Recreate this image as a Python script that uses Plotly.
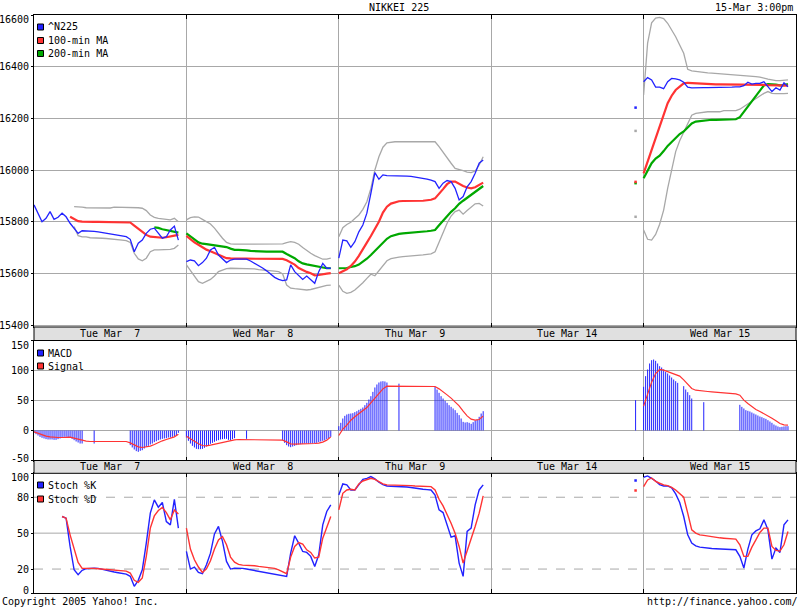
import plotly.graph_objects as go

# Nikkei 225, five trading days.
# Lines are sampled every 10 minutes from the 9:00 open (37 points a day),
# MACD bars every 5 minutes (morning, one noon bar, afternoon).
day_labels = ["Tue Mar\u00a0\u00a07", "Wed Mar\u00a0\u00a08", "Thu Mar\u00a0\u00a09", "Tue Mar 14", "Wed Mar 15"]

price_07 = [15866, 15836, 15801, 15814, 15840, 15810, 15818, 15834, 15820, 15795, 15776, 15756, 15766,
            15766, 15765, 15764, 15762, 15759, 15756, 15755, 15752, 15750, 15747, 15743, 15733, 15685,
            15718, 15730, 15756, 15772, 15776, 15756, 15737, 15743, 15769, 15784, 15730]
price_08 = [15647, 15653, 15650, 15631, 15643, 15660, 15692, 15702, 15672, 15656, 15643, 15653, 15656,
            15656, 15656, 15656, 15649, 15641, 15633, 15622, 15611, 15599, 15586, 15578, 15573, 15576,
            15634, 15608, 15591, 15578, 15591, 15578, 15563, 15608, 15640, 15621, 15621]
price_09 = [15660, 15730, 15727, 15702, 15724, 15762, 15788, 15834, 15911, 15991, 15965, 15982, 15979,
            15979, 15979, 15978, 15978, 15977, 15976, 15974, 15972, 15969, 15966, 15962, 15956, 15930,
            15950, 15960, 15956, 15930, 15885, 15898, 15936, 15956, 15988, 16027, 16040]
price_15 = [16342, 16358, 16349, 16321, 16321, 16315, 16342, 16355, 16353, 16349, 16340, 16321, 16318,
            16319, 16319, 16319, 16319, 16319, 16319, 16319, 16319, 16320, 16321, 16322, 16322, 16327,
            16340, 16333, 16336, 16336, 16342, 16323, 16304, 16319, 16310, 16338, 16323]

ma100_07 = [None, None, None, None, None, None, None, None, None, 15820, 15810, 15803, 15801,
            15800, 15800, 15800, 15800, 15800, 15800, 15800, 15800, 15800, 15800, 15799, 15798, 15786,
            15774, 15762, 15750, 15743, 15741, 15741, 15739, 15741, 15743, 15747, 15750]
ma100_08 = [15746, 15733, 15721, 15712, 15702, 15693, 15687, 15681, 15674, 15666, 15660, 15659, 15658,
            15658, 15658, 15658, 15658, 15658, 15658, 15658, 15658, 15658, 15658, 15658, 15657, 15652,
            15644, 15635, 15622, 15613, 15607, 15602, 15594, 15595, 15599, 15600, 15602]
ma100_09 = [15602, 15608, 15617, 15630, 15647, 15669, 15692, 15720, 15746, 15773, 15801, 15836, 15859,
            15871, 15876, 15880, 15881, 15881, 15881, 15881, 15881, 15882, 15884, 15886, 15891, 15911,
            15927, 15946, 15956, 15956, 15947, 15939, 15933, 15930, 15934, 15943, 15952]
ma100_15 = [15988, 16033, 16078, 16123, 16162, 16210, 16259, 16288, 16310, 16323, 16336, 16338, 16337,
            16336, 16335, 16333, 16332, 16332, 16332, 16332, 16332, 16332, 16332, 16331, 16331, 16331,
            16331, 16331, 16331, 16331, 16330, 16329, 16329, 16328, 16327, 16327, 16327]

ma200_07 = [None] * 30 + [15779, 15777, 15772, 15768, 15765, 15762, 15759]
ma200_08 = [15756, 15746, 15733, 15721, 15716, 15714, 15712, 15711, 15709, 15707, 15703, 15697, 15692,
            15692, 15692, 15690, 15688, 15687, 15685, 15685, 15685, 15685, 15685, 15685, 15685, 15676,
            15669, 15660, 15648, 15640, 15636, 15633, 15630, 15627, 15623, 15621, 15621]
ma200_09 = [15621, 15622, 15622, 15626, 15629, 15635, 15645, 15658, 15672, 15688, 15702, 15721, 15735,
            15745, 15750, 15754, 15756, 15757, 15758, 15759, 15760, 15762, 15764, 15766, 15769, 15787,
            15805, 15823, 15839, 15853, 15870, 15882, 15894, 15904, 15916, 15927, 15939]
ma200_15 = [15969, 15998, 16027, 16045, 16056, 16074, 16094, 16109, 16123, 16140, 16150, 16166, 16181,
            16188, 16190, 16193, 16195, 16195, 16195, 16195, 16195, 16197, 16197, 16197, 16205, 16226,
            16246, 16269, 16287, 16307, 16328, 16333, 16333, 16331, 16328, 16329, 16333]

upper_07 = [None] * 10 + [15859, 15859, 15857, 15855, 15855, 15854, 15854, 15853, 15853, 15854, 15857,
                          15857, 15857, 15857, 15857, 15857, 15855, 15853, 15844, 15827, 15818, 15814,
                          15812, 15810, 15808, 15814, 15801]
upper_08 = [15808, 15817, 15820, 15819, 15810, 15801, 15792, 15776, 15756, 15737, 15721, 15715, 15714,
            15714, 15714, 15714, 15714, 15714, 15714, 15714, 15714, 15714, 15714, 15714, 15715, 15720,
            15724, 15721, 15714, 15701, 15689, 15679, 15670, 15663, 15656, 15656, 15660]
upper_09 = [15743, 15778, 15790, 15799, 15813, 15827, 15849, 15878, 15930, 16001, 16052, 16089, 16106,
            16109, 16110, 16110, 16110, 16110, 16110, 16110, 16110, 16110, 16110, 16110, 16110, 16091,
            16068, 16046, 16027, 16007, 16001, 15998, 15993, 15991, 15997, 16020, 16052]
upper_15 = [16291, 16491, 16570, 16588, 16591, 16586, 16568, 16542, 16516, 16484, 16452, 16390, 16384,
            16382, 16379, 16377, 16376, 16375, 16374, 16372, 16372, 16371, 16370, 16368, 16367, 16366,
            16365, 16364, 16362, 16360, 16355, 16352, 16349, 16346, 16346, 16347, 16349]

lower_07 = [None] * 10 + [15782, 15747, 15742, 15742, 15739, 15739, 15738, 15737, 15736, 15735, 15733,
                          15732, 15730, 15728, 15721, 15679, 15657, 15650, 15660, 15685, 15692, 15692,
                          15692, 15693, 15694, 15698, 15711]
lower_08 = [15634, 15612, 15586, 15569, 15563, 15569, 15578, 15591, 15608, 15614, 15620, 15621, 15621,
            15621, 15621, 15621, 15621, 15619, 15616, 15615, 15614, 15612, 15610, 15608, 15599, 15556,
            15544, 15542, 15540, 15537, 15537, 15539, 15543, 15548, 15553, 15555, 15556]
lower_09 = [15556, 15532, 15524, 15528, 15537, 15550, 15565, 15582, 15598, 15592, 15611, 15634, 15650,
            15658, 15662, 15664, 15666, 15667, 15668, 15670, 15671, 15673, 15675, 15677, 15685, 15720,
            15762, 15795, 15823, 15840, 15846, 15830, 15844, 15857, 15870, 15872, 15862]
lower_15 = [15769, 15733, 15730, 15752, 15791, 15846, 15930, 16004, 16072, 16114, 16149, 16181, 16213,
            16220, 16222, 16225, 16226, 16226, 16226, 16226, 16230, 16230, 16230, 16230, 16236, 16246,
            16259, 16269, 16278, 16287, 16297, 16304, 16297, 16296, 16295, 16296, 16297]

# Mar 14 only has the closing print
close_14 = {"price": 16242, "ma100": 15955, "ma200": 15950, "upper": 16152, "lower": 15820,
            "macd": 50.6, "k": 93.9, "d": 85.6}

macd_07_am = [-3.9, -6.1, -8.3, -10.6, -12.2, -13.3, -14.4, -15, -15, -15, -15.6, -15.6, -14.4, -13.3,
              -11.7, -10.6, -10.6, -11.1, -12.2, -13.9, -16.1, -18.3, -20, -21.7, -21.7]
macd_07_noon = -21.7
macd_07_pm = [-24.4, -28.3, -31.7, -34.4, -35.6, -33.9, -32.8, -30, -27.2, -25.6, -23.3, -21.7, -19.4,
              -17.8, -16.1, -15, -13.9, -13.3, -12.8, -11.7, -11.7, -10.6, -9.4, -7.8, -3.9]
macd_08_am = [-11.7, -17.2, -21.7, -25.6, -28.3, -30.6, -31.1, -31.1, -30.6, -28.9, -26.7, -24.4, -22.2,
              -20.6, -18.9, -17.2, -16.1, -15, -14.4, -13.9, -13.9, -15.6, -16.1, -14.4, -12.8]
macd_08_noon = -13.9
macd_08_pm = [-16.1, -20.6, -24.4, -26.7, -27.8, -26.7, -25.6, -24.4, -23.3, -22.8, -22.2, -21.7, -21.7,
              -22.2, -21.7, -21.7, -21.1, -20.6, -19.4, -18.3, -17.2, -16.1, -14.4, -12.8, -10.6]
macd_09_am = [7.2, 12.8, 20, 24.4, 26.7, 27.8, 28.3, 28.9, 30.6, 32.2, 34.4, 36.1, 38.3, 42.2, 46.1,
              51.7, 57.2, 64.4, 71.7, 76.7, 80, 81.7, 82.2, 81.7, 80]
macd_09_noon = 78
macd_09_pm = [72.8, 68.3, 62.8, 57.2, 53.3, 49.4, 46.1, 42.2, 39.4, 36.7, 33.9, 29.4, 25.6, 20, 14.4,
              13.3, 13.9, 12.8, 11.1, 13.9, 16.7, 18.3, 22.8, 28.3, 32.2]
macd_15_am = [72.8, 90.6, 101.7, 111.7, 117.2, 118.3, 116.1, 111.7, 107.2, 105, 101.7, 97.8, 95, 91.7,
              88.3, 85, 82.2, 79.4, None, None, 73.9, 68.3, 63.9, 58.9, 53.3]
macd_15_noon = 47.2
macd_15_pm = [42.8, 39.4, 36.7, 33.9, 32.8, 31.7, 30, 28.3, 26.7, 25, 23.3, 22.2, 20.6, 19.4, 17.2, 15,
              12.8, 10, 8.3, 6.7, 5.6, 6.1, 6.7, 7.2, 7.2]

signal_07 = [-2.2, -5, -7.2, -9.4, -10.6, -11.7, -11.7, -11.7, -11.1, -11.1, -12.8, -14.4, -16.7, -17.8,
             -18.3, -18.3, -18.3, -18.3, -18.3, -18.3, -18.3, -18.3, -18.3, -18.3, -20.6, -24.4, -27.2,
             -28.3, -27.8, -26.1, -23.3, -20, -17.2, -15, -13.3, -10.6, -6.1]
signal_08 = [-9.4, -13.9, -18.3, -22.2, -25, -25.6, -24.4, -22.8, -21.1, -19.4, -17.8, -16.7, -15.6, -15,
             -15, -15, -15, -15, -15, -15, -15, -15, -15, -15, -16.1, -18.9, -22.2, -22.8, -22.8, -21.7,
             -21.7, -21.7, -21.7, -21.1, -19.4, -16.1, -10.6]
signal_09 = [-8.3, 2.2, 8.9, 17.2, 22.8, 28.3, 32.8, 38.3, 46.1, 53.3, 61.7, 69.4, 73.9, 73.9, 73.9, 73.9,
             73.9, 73.9, 73.9, 73.9, 73.9, 73.9, 73.9, 73.9, 73.3, 69.4, 65, 59.4, 53.9, 48.3, 41.1, 32.2,
             24.4, 18.9, 17.2, 18.3, 23.9]
signal_15 = [40.6, 60.6, 80.6, 95, 101.7, 100.6, 97.8, 95, 92.8, 90.6, 84.4, 77.2, 70, 67.2, 66.1, 65.6,
             65, 64.4, 63.9, 62.8, 62.8, 62.2, 61.7, 61.1, 58.9, 50.6, 45, 39.4, 35, 31.7, 28.3, 23.9, 20.6,
             16.1, 11.7, 9.4, 8.9]

stoch_k_07 = [None] * 7 + [63.9, 62.5, 38.9, 19.4, 15.3, 18.9, 20.3, 20.8, 20.8, 20.6, 19.7, 18.9, 18.1,
                           17.5, 16.9, 16.4, 15.8, 13.9, 5.6, 10.6, 19.4, 41.7, 66.7, 77.8, 71.7, 75.6,
                           59.7, 56.9, 78.3, 54.2]
stoch_k_08 = [34.7, 20, 21.7, 17.2, 16.1, 23.6, 33.3, 49.4, 55.6, 43.1, 26.4, 20, 20.8, 20.8, 20.6, 20,
              19.4, 18.9, 18.3, 17.8, 17.2, 16.7, 16.1, 15.3, 14.4, 13.9, 33.3, 47.8, 41.7, 34.7, 33.9,
              30.6, 22.2, 31.9, 56.9, 68.1, 73.6]
stoch_k_09 = [81.9, 91.1, 90.3, 86.1, 86.1, 90.6, 95, 95.8, 97.2, 95.3, 92.5, 90.6, 89.4, 89.2, 89.2, 89.2,
              88.9, 88.6, 88.1, 87.5, 86.9, 86.7, 86.4, 86.1, 81.9, 69.4, 67.2, 57.8, 46.7, 47.8, 25, 13.9,
              51.4, 54.2, 73.6, 86.1, 90.3]
stoch_k_15 = [96.7, 97.8, 95.8, 93.6, 90.6, 89.4, 89.4, 87.8, 82.8, 75.6, 63.9, 48.6, 41.7, 39.4, 38.3,
              37.8, 37.5, 37.2, 37, 36.7, 36.7, 36.4, 36.4, 36.1, 30.6, 20.8, 36.7, 48.6, 51.9, 53.6, 61.1,
              52.8, 28.3, 37.5, 33.9, 56.9, 61.1]

stoch_d_07 = [None] * 7 + [63.9, 62.5, 48.6, 36.7, 25.6, 20.6, 20.8, 20.8, 20.6, 20.3, 20, 20, 19.4, 19.2,
                           18.9, 18.6, 18.3, 16.7, 10.6, 8.9, 12.5, 30.6, 54.2, 64.4, 68.9, 71.4, 67.2,
                           61.1, 69.4, 66.1]
stoch_d_08 = [54.2, 36.7, 27.8, 21.7, 17.2, 20.3, 26.9, 36.7, 44.4, 47.2, 40.3, 30, 25.8, 23.9, 23.3,
              23.3, 22.8, 22.8, 22.2, 21.7, 21.7, 21.1, 20.6, 19.4, 17.8, 16.1, 30, 38.9, 42.2, 40.8, 36.1,
              33.9, 29.2, 30, 45.8, 54.2, 63.9]
stoch_d_09 = [69.4, 83.3, 86.1, 86.7, 86.1, 91.1, 93.6, 94.4, 95.8, 95, 92.8, 91.1, 90.3, 90.3, 90.3, 90.3,
              90, 89.7, 89.7, 89.4, 89.2, 89.2, 89.2, 88.9, 86.1, 78.3, 72.8, 66.1, 58.3, 50, 38.9, 25,
              34.7, 45.8, 55.6, 66.7, 81.1]
stoch_d_15 = [88.9, 94.4, 96.1, 93.3, 91.7, 90.3, 89.7, 88.3, 86.1, 83.3, 80, 66.7, 52.8, 50, 48.6, 48.1,
              47.5, 47.2, 46.7, 46.1, 45.8, 45.6, 45.3, 45, 40.3, 30.6, 30.6, 38.3, 44.4, 50.6, 54.2, 54.2,
              38.9, 35.6, 35, 40.3, 51.4]

price_ticks = [15400, 15600, 15800, 16000, 16200, 16400, 16600]
macd_ticks = [-50, 0, 50, 100, 150]
stoch_ticks = [0, 20, 50, 80, 100]

DAY_LEN = 380      # minutes of axis per trading day (9:00 .. 15:20)
CLOSE_T = 360      # 15:00

BLUE = "#2222ff"
RED = "#ff3333"
GREEN = "#00a800"
GREY = "#a8a8a8"
FONT = "DejaVu Sans Mono"


def joined(series):
    # series: list of (day index, values every 10 min); days separated by gaps
    xs, ys = [], []
    for d, vals in series:
        xs += [d * DAY_LEN + 10 * i for i in range(len(vals))] + [None]
        ys += list(vals) + [None]
    return xs, ys


def bars(series):
    xs, ys = [], []
    for d, am, noon, pm in series:
        xs += [d * DAY_LEN + 5 * j for j in range(len(am))]
        xs += [d * DAY_LEN + 150]
        xs += [d * DAY_LEN + 240 + 5 * i for i in range(len(pm))]
        ys += list(am) + [noon] + list(pm)
    return xs, ys


# pixel -> paper helpers for the fixed 800x608 page (plot area 34..796 x 15..593)
def px_x(p):
    return (p - 34) / 762


def px_y(p):
    return (593 - p) / 578


fig = go.Figure()


def add_line(series, color, width, xa, ya, single=None):
    xs, ys = joined(series)
    fig.add_trace(go.Scatter(x=xs, y=ys, mode="lines", line=dict(color=color, width=width),
                             xaxis=xa, yaxis=ya, hoverinfo="skip", showlegend=False))
    if single is not None:
        fig.add_trace(go.Scatter(x=[3 * DAY_LEN + CLOSE_T], y=[single], mode="markers",
                                 marker=dict(color=color, size=2.5, symbol="square"),
                                 xaxis=xa, yaxis=ya, hoverinfo="skip", showlegend=False))


# main panel
add_line([(0, upper_07), (1, upper_08), (2, upper_09), (4, upper_15)], GREY, 1.3, "x", "y", close_14["upper"])
add_line([(0, lower_07), (1, lower_08), (2, lower_09), (4, lower_15)], GREY, 1.3, "x", "y", close_14["lower"])
add_line([(0, ma200_07), (1, ma200_08), (2, ma200_09), (4, ma200_15)], GREEN, 2.2, "x", "y", close_14["ma200"])
add_line([(0, ma100_07), (1, ma100_08), (2, ma100_09), (4, ma100_15)], RED, 2.2, "x", "y", close_14["ma100"])
add_line([(0, price_07), (1, price_08), (2, price_09), (4, price_15)], BLUE, 1.3, "x", "y", close_14["price"])

# MACD panel: histogram drawn as thin vertical strokes from zero
bx, by = bars([(0, macd_07_am, macd_07_noon, macd_07_pm), (1, macd_08_am, macd_08_noon, macd_08_pm),
               (2, macd_09_am, macd_09_noon, macd_09_pm), (4, macd_15_am, macd_15_noon, macd_15_pm)])
bx.append(3 * DAY_LEN + CLOSE_T)
by.append(close_14["macd"])
sx, sy = [], []
for x, v in zip(bx, by):
    if v is None:
        continue
    sx += [x, x, None]
    sy += [0, v, None]
fig.add_trace(go.Scatter(x=sx, y=sy, mode="lines", line=dict(color=BLUE, width=1),
                         xaxis="x2", yaxis="y2", hoverinfo="skip", showlegend=False))
add_line([(0, signal_07), (1, signal_08), (2, signal_09), (4, signal_15)], RED, 1.2, "x2", "y2")

# stochastics panel
add_line([(0, stoch_k_07), (1, stoch_k_08), (2, stoch_k_09), (4, stoch_k_15)], BLUE, 1.4, "x3", "y3", close_14["k"])
add_line([(0, stoch_d_07), (1, stoch_d_08), (2, stoch_d_09), (4, stoch_d_15)], RED, 1.4, "x3", "y3", close_14["d"])

day_edges = [DAY_LEN * i for i in range(1, 5)]
xax = dict(range=[0, 5 * DAY_LEN], tickvals=day_edges, showticklabels=False, ticks="inside", ticklen=4,
           tickcolor="black", showgrid=True, gridcolor=GREY, gridwidth=1, showline=True, linecolor="black",
           linewidth=1, mirror="ticks", zeroline=False, fixedrange=True, automargin=False)
yax = dict(ticks="outside", ticklen=2, tickcolor="black", showline=True, linecolor="black", linewidth=1,
           mirror=True, zeroline=False, gridcolor=GREY, gridwidth=1, showticklabels=False, automargin=False)

fig.update_layout(
    width=800, height=608, margin=dict(l=34, r=4, t=15, b=15, autoexpand=False),
    paper_bgcolor="white", plot_bgcolor="white",
    xaxis=dict(xax, anchor="y"),
    xaxis2=dict(xax, anchor="y2", matches="x"),
    xaxis3=dict(xax, anchor="y3", matches="x"),
    yaxis=dict(yax, domain=[px_y(327), 1], range=[15394, 16600], tickvals=price_ticks),
    yaxis2=dict(yax, domain=[px_y(460.5), px_y(340.5)], range=[-50, 150], tickvals=macd_ticks),
    yaxis3=dict(yax, domain=[0, px_y(473.3)], range=[0, 100], tickvals=stoch_ticks, showgrid=False),
)

lab_font = dict(family=FONT, size=10, color="black")
shapes = []
annotations = []

# y tick labels, the ones at a panel edge nudged inward like the original
for ticks, yref in [(price_ticks, "y"), (macd_ticks, "y2"), (stoch_ticks, "y3")]:
    for i, v in enumerate(ticks):
        shift = 0
        if i == len(ticks) - 1:
            shift = -4.5
        elif i == 0 and yref != "y":
            shift = 2.5
        annotations.append(dict(text=str(v), x=px_x(31), xref="paper", y=v, yref=yref, yshift=shift,
                                showarrow=False, xanchor="right", yanchor="middle", font=lab_font))

# date bands between panels
for top, bottom in [(327, 340.5), (460.5, 473.3)]:
    shapes.append(dict(type="rect", xref="paper", yref="paper", x0=0, x1=1, y0=px_y(bottom), y1=px_y(top),
                       fillcolor="#e0e0e0", line=dict(width=1, color="black"), layer="above"))
    for i, lab in enumerate(day_labels):
        annotations.append(dict(text=lab, x=i * DAY_LEN + DAY_LEN / 2, xref="x", y=px_y((top + bottom) / 2),
                                yref="paper", showarrow=False, xanchor="center", yanchor="middle",
                                font=lab_font))

# stochastic reference levels
for lvl, dash in [(20, "dash"), (50, "solid"), (80, "dash")]:
    shapes.append(dict(type="line", xref="paper", yref="y3", x0=0, x1=1, y0=lvl, y1=lvl,
                       line=dict(color=GREY, width=1, dash=dash), layer="below"))

# panel legends
legends = [
    [("^N225", BLUE, 27), ("100-min MA", RED, 40.5), ("200-min MA", GREEN, 53.5)],
    [("MACD", BLUE, 353), ("Signal", RED, 366)],
    [("Stoch %K", BLUE, 485), ("Stoch %D", RED, 499)],
]
for group in legends:
    for name, color, cy in group:
        shapes.append(dict(type="rect", xref="paper", yref="paper", x0=px_x(37.5), x1=px_x(43.5),
                           y0=px_y(cy + 3), y1=px_y(cy - 3), fillcolor=color,
                           line=dict(color="black", width=1), layer="above"))
        annotations.append(dict(text=name, x=px_x(46), y=px_y(cy), xref="paper", yref="paper",
                                showarrow=False, xanchor="left", yanchor="middle", font=lab_font))

annotations += [
    dict(text="NIKKEI 225", x=px_x(399), y=px_y(7), xref="paper", yref="paper", showarrow=False,
         xanchor="center", yanchor="middle", font=lab_font),
    dict(text="15-Mar 3:00pm", x=px_x(795), y=px_y(7), xref="paper", yref="paper", showarrow=False,
         xanchor="right", yanchor="middle", font=lab_font),
    dict(text="Copyright 2005 Yahoo! Inc.", x=px_x(0), y=px_y(601), xref="paper", yref="paper",
         showarrow=False, xanchor="left", yanchor="middle", font=lab_font),
    dict(text="http://finance.yahoo.com/", x=px_x(800), y=px_y(601), xref="paper", yref="paper",
         showarrow=False, xanchor="right", yanchor="middle", font=lab_font),
]

fig.update_layout(shapes=shapes, annotations=annotations)
# the page body has a default 8px margin; drop it so the figure fills the window exactly
fig.write_html("out.html", config={"displayModeBar": False},
               post_script="document.body.style.margin='0';")
